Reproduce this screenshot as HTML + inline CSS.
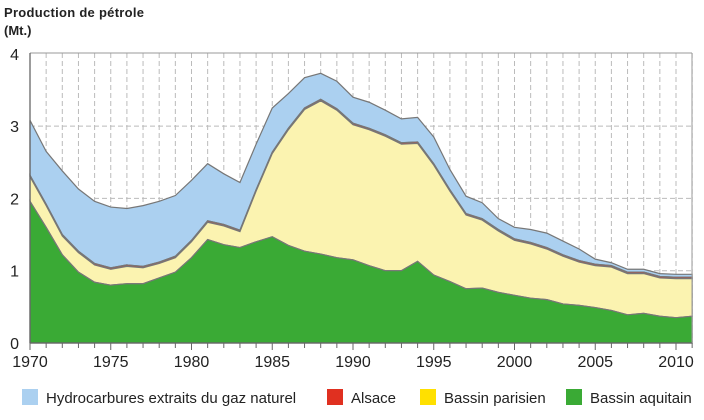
<!DOCTYPE html>
<html><head><meta charset="utf-8"><style>
body{margin:0;background:#fff;width:704px;height:415px;overflow:hidden;font-family:"Liberation Sans",sans-serif}
</style></head><body>
<svg id="s" width="704" height="415" xmlns="http://www.w3.org/2000/svg">
<text x="4" y="17" font-size="13" font-weight="bold" fill="#222" font-family="Liberation Sans Narrow, Liberation Sans, sans-serif" textLength="140">Production de pétrole</text>
<text x="4" y="35" font-size="13" font-weight="bold" fill="#222">(Mt.)</text>
<g id="g"></g>
</svg>
<script>
const T=[3.08,2.65,2.38,2.13,1.96,1.88,1.86,1.9,1.96,2.04,2.25,2.48,2.34,2.22,2.75,3.25,3.45,3.67,3.73,3.62,3.4,3.33,3.22,3.1,3.12,2.85,2.4,2.03,1.94,1.72,1.6,1.57,1.52,1.41,1.3,1.16,1.11,1.02,1.02,0.96,0.95,0.95];
const Y=[2.3,1.9,1.48,1.25,1.08,1.02,1.06,1.04,1.1,1.18,1.4,1.67,1.62,1.54,2.1,2.62,2.95,3.23,3.35,3.22,3.02,2.95,2.86,2.75,2.76,2.46,2.1,1.77,1.7,1.55,1.42,1.37,1.3,1.2,1.12,1.07,1.05,0.96,0.96,0.9,0.89,0.89];
const A=Y.map(v=>v+0.02);
const G=[1.96,1.6,1.22,0.98,0.84,0.8,0.82,0.82,0.9,0.98,1.18,1.43,1.36,1.32,1.4,1.47,1.35,1.27,1.23,1.18,1.15,1.07,1.0,1.0,1.13,0.94,0.85,0.75,0.76,0.7,0.66,0.62,0.6,0.54,0.52,0.49,0.45,0.39,0.41,0.37,0.35,0.37];
const X0=30,DX=16.15,Y0=343,DY=72.3;
const px=i=>X0+i*DX, py=v=>Y0-v*DY;
let h='';
// grid
for(let i=1;i<=41;i++)h+=`<line x1="${px(i)}" y1="53" x2="${px(i)}" y2="343" stroke="#bbb" stroke-dasharray="5,3"/>`;
for(let v=1;v<=3;v++)h+=`<line x1="30" y1="${py(v)}" x2="692" y2="${py(v)}" stroke="#bbb" stroke-dasharray="5,3"/>`;
function area(top,bot,fill){let d='M'+top.map((v,i)=>px(i)+','+py(v)).join(' L');
for(let i=bot.length-1;i>=0;i--)d+=' L'+px(i)+','+py(bot[i]);return `<path d="${d} Z" fill="${fill}" stroke="#777" stroke-width="1.2"/>`;}
const Z=G.map(()=>0);
h+=area(T,A,'#abd0f0');
h+=area(A,Y,'#e03020');
h+=area(Y,G,'#fbf3b0');
h+=area(G,Z,'#3aaa35');
// frame
h+=`<line x1="30" y1="53" x2="692" y2="53" stroke="#999"/><line x1="692" y1="53" x2="692" y2="343" stroke="#999"/>`;
h+=`<line x1="30" y1="53" x2="30" y2="343" stroke="#666" stroke-width="1.3"/><line x1="30" y1="343" x2="692" y2="343" stroke="#666" stroke-width="1.3"/>`;
for(let i=0;i<=41;i++){h+=`<line x1="${px(i)}" y1="343" x2="${px(i)}" y2="${i%5==0?350:348}" stroke="#666"/>`;}
for(let v=0;v<=4;v++)h+=`<text x="19" y="${py(v)+6}" font-size="16" text-anchor="end" fill="#222">${v}</text>`;
for(let i=0;i<=40;i+=5)h+=`<text x="${px(i)}" y="367" font-size="16" text-anchor="middle" fill="#222">${1970+i}</text>`;
// legend
const L=[[22,'#abd0f0','Hydrocarbures extraits du gaz naturel'],[327,'#e03020','Alsace'],[420,'#ffe000','Bassin parisien'],[566,'#3aaa35','Bassin aquitain']];
for(const [x,c,t] of L){h+=`<rect x="${x}" y="389" width="16" height="16" fill="${c}"/><text x="${x+24}" y="403" font-size="15" fill="#222">${t}</text>`;}
document.getElementById('g').innerHTML=h;
</script>
</body></html>
